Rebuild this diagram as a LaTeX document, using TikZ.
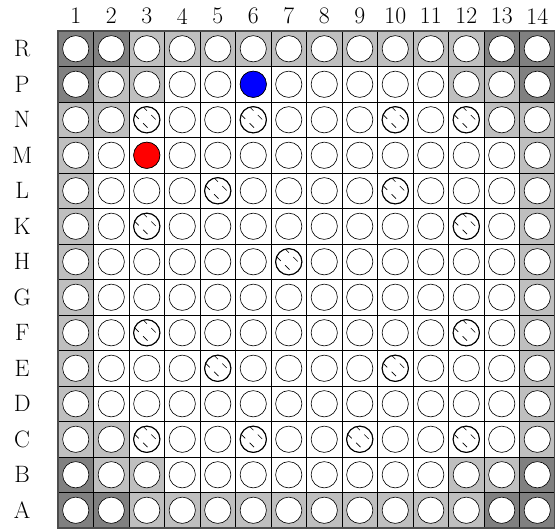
\documentclass[tikz,border=0pt]{standalone}
\usetikzlibrary{positioning}

\tikzset{
  well/.style={circle, draw=black, fill=white, line width=0.5pt, minimum size=0.74cm, inner sep=0pt},
  wellmark/.style={well, line width=0.9pt},
  rowlab/.style={font=\fontsize{19}{23}\selectfont},
  darkcell/.style={fill=black!50},
  lightcell/.style={fill=black!25}
}

\begin{document}
\begin{tikzpicture}[x=1cm,y=1cm]
\useasboundingbox (-1.634,0) rectangle (14,14.874);

% shaded border cells
\foreach \c/\r in {1/14,2/14,1/13,13/14,14/14,14/13,1/2,1/1,2/1,13/1,14/1,14/2}
  \fill[darkcell] (\c-1,\r-1) rectangle (\c,\r);
\foreach \c in {3,...,12} {
  \fill[lightcell] (\c-1,13) rectangle (\c,14);
  \fill[lightcell] (\c-1,0) rectangle (\c,1);
}
\foreach \r in {3,...,12} {
  \fill[lightcell] (0,\r-1) rectangle (1,\r);
  \fill[lightcell] (13,\r-1) rectangle (14,\r);
}
\foreach \c/\r in {2/13,3/13,12/13,13/13,2/12,13/12,2/3,2/2,3/2,12/2,13/2}
  \fill[lightcell] (\c-1,\r-1) rectangle (\c,\r);

% grid
\draw[line width=0.5pt] (0,0) grid (14,14);
\draw[line width=0.9pt, black!70] (0,0) rectangle (14,14);

% labels
\foreach \c in {1,...,14}
  \node[rowlab] (col\c) at (\c-0.5,14.42) {\c};
\foreach \r/\l in {14/R,13/P,12/N,11/M,10/L,9/K,8/H,7/G,6/F,5/E,4/D,3/C,2/B,1/A}
  \node[rowlab] (row\l) at (-1.01,\r-0.5) {\l};

% wells
\foreach \c in {1,...,14}
  \foreach \r in {1,...,14}
    \node[well] (w\c-\r) at (\c-0.5,\r-0.5) {};

\node[well, fill=blue] (wP6) at (5.5,12.5) {};
\node[well, fill=red] (wM3) at (2.5,10.5) {};

% marked wells
\foreach \c/\r in {3/12,6/12,10/12,12/12,5/10,10/10,3/9,12/9,7/8,3/6,12/6,5/5,10/5,3/3,6/3,9/3,12/3} {
  \node[wellmark] (m\c-\r) at (\c-0.5,\r-0.5) {};
  \begin{scope}
    \clip (\c-0.5,\r-0.5) circle (0.36);
    \draw[line width=0.5pt, dash pattern=on 5pt off 5pt]
      (\c-0.85,\r-0.35) -- (\c-0.35,\r-0.85)
      (\c-0.62,\r-0.12) -- (\c-0.12,\r-0.62);
  \end{scope}
}
\end{tikzpicture}
\end{document}
